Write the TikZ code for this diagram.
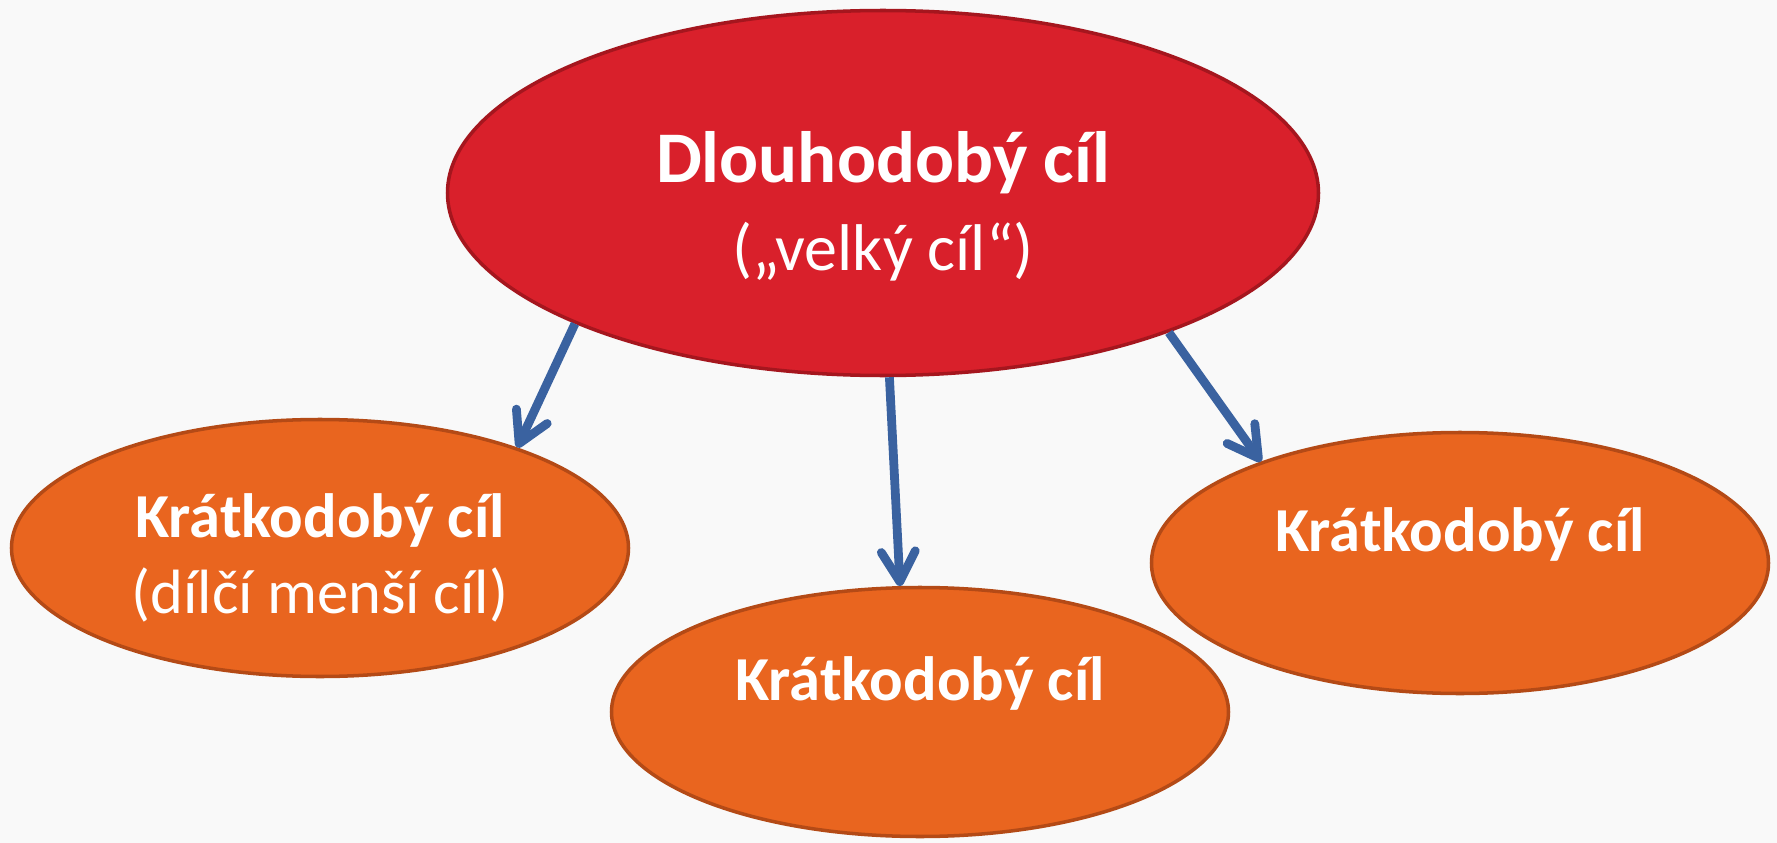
\documentclass[tikz,border=0pt]{standalone}
\usepackage{fontspec}
\setmainfont{Carlito}
\usetikzlibrary{arrows.meta, shapes.geometric}
\definecolor{goalred}{RGB}{217, 32, 43}
\definecolor{goalredline}{RGB}{165, 22, 30}
\definecolor{steporange}{RGB}{233, 101, 31}
\definecolor{steporangeline}{RGB}{180, 74, 22}
\definecolor{arrowblue}{RGB}{58, 98, 160}
\definecolor{slidebg}{RGB}{249, 249, 249}

\begin{document}
\begin{tikzpicture}[
        goal/.style={ellipse, draw=goalredline, line width=1pt, fill=goalred, text=white, inner sep=0pt, align=center, minimum width=8.71cm, minimum height=3.65cm},
        subgoal/.style={ellipse, draw=steporangeline, line width=1pt, fill=steporange, text=white, inner sep=0pt, align=center, minimum width=6.17cm, font=\fontsize{17.8}{21.5}\selectfont},
        arr/.style={-{Straight Barb[round, length=0.3cm, width=0.34cm]}, line width=2.5pt, arrowblue}
      ]
        \fill[slidebg] (0,0) rectangle (17.77,-8.43);
        \useasboundingbox (0,0) rectangle (17.77,-8.43);

        \node[goal] (long) at (8.83,-1.93) {{\fontsize{20.7}{24}\selectfont\bfseries\rule{0pt}{22pt}Dlouhodobý cíl}\\[7pt]{\fontsize{18.8}{22}\selectfont („velký cíl“)}};

        \node[subgoal, minimum height=2.57cm] (short1) at (3.20,-5.48) {\bfseries\rule{0pt}{18pt}Krátkodobý cíl\\(dílčí menší cíl)};
        \node[subgoal, minimum height=2.49cm] (short2) at (9.20,-7.12) {\bfseries Krátkodobý cíl\\[-9pt]\strut};
        \node[subgoal, minimum height=2.61cm] (short3) at (14.60,-5.63) {\bfseries Krátkodobý cíl\\[-9pt]\strut};

        \draw[arr] (long.-157) -- (short1.27);
        \draw[arr] (long.-88) -- (short2.99);
        \draw[arr] (long.-26) -- (short3.153);
      \end{tikzpicture}
\end{document}
